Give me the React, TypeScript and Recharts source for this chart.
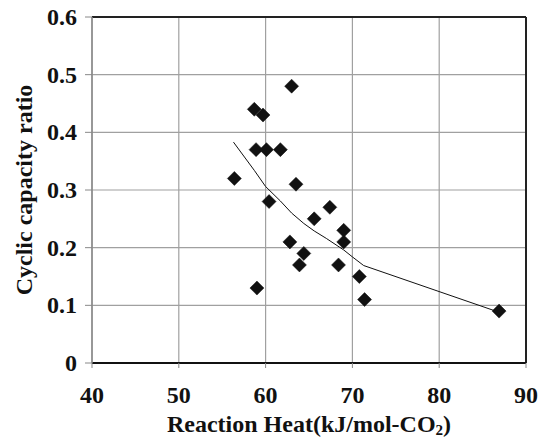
import React from 'react';
import { ScatterChart, Scatter, XAxis, YAxis, CartesianGrid, ReferenceLine } from 'recharts';

const xTicks = [40, 50, 60, 70, 80, 90];
const yTicks = [0, 0.1, 0.2, 0.3, 0.4, 0.5, 0.6];

const heatValues = [63.0, 58.7, 59.7, 58.9, 60.1, 61.7, 56.4, 63.5, 60.4, 67.4, 65.6, 69.0, 69.0, 62.8, 64.4, 63.9, 68.4, 70.8, 59.0, 71.4, 86.9];
const ratioValues = [0.48, 0.44, 0.43, 0.37, 0.37, 0.37, 0.32, 0.31, 0.28, 0.27, 0.25, 0.23, 0.21, 0.21, 0.19, 0.17, 0.17, 0.15, 0.13, 0.11, 0.09];

const trendHeat = [56.3, 58.7, 60.0, 61.7, 63.0, 64.4, 65.6, 67.0, 69.0, 70.0, 71.3, 86.9];
const trendRatio = [0.383, 0.334, 0.306, 0.281, 0.26, 0.242, 0.229, 0.216, 0.196, 0.184, 0.169, 0.088];

const points = heatValues.map((x, i) => ({ x, y: ratioValues[i] }));
const trend = trendHeat.map((x, i) => ({ x, y: trendRatio[i] }));

const FONT = '"Liberation Serif", "DejaVu Serif", serif';

const Diamond = (props: any) => {
  const { cx, cy } = props;
  const r = 7;
  return (
    <polygon
      points={`${cx},${cy - r} ${cx + r},${cy} ${cx},${cy + r} ${cx - r},${cy}`}
      fill="#111"
      stroke="#111"
      strokeWidth={0.5}
    />
  );
};

const NoShape = () => <g />;

const XTick = (props: any) => {
  const { x, y, payload } = props;
  return (
    <text x={x} y={y + 17} textAnchor="middle" style={{ fontFamily: FONT, fontWeight: 700, fontSize: 24 }} fill="#111">
      {payload.value}
    </text>
  );
};

const YTick = (props: any) => {
  const { x, y, payload } = props;
  return (
    <text x={x} y={y + 8} textAnchor="end" style={{ fontFamily: FONT, fontWeight: 700, fontSize: 24 }} fill="#111">
      {payload.value}
    </text>
  );
};

const XTitle = (props: any) => {
  const vb = props.viewBox || {};
  const cx = vb.x + vb.width / 2;
  const y = vb.y + 69;
  return (
    <text x={cx} y={y} textAnchor="middle" style={{ fontFamily: FONT, fontWeight: 700, fontSize: 24 }} fill="#111">
      <tspan>Reaction Heat(kJ/mol-CO</tspan>
      <tspan style={{ fontSize: 15 }} dy={3}>2</tspan>
      <tspan dy={-3}>)</tspan>
    </text>
  );
};

const YTitle = (props: any) => {
  const vb = props.viewBox || {};
  const cy = vb.y + vb.height / 2;
  const x = 32;
  return (
    <text
      x={x}
      y={cy}
      transform={`rotate(-90, ${x}, ${cy})`}
      textAnchor="middle"
      style={{ fontFamily: FONT, fontWeight: 700, fontSize: 24 }}
      fill="#111"
    >
      Cyclic capacity ratio
    </text>
  );
};

export default function App() {
  return (
    <div style={{ position: 'absolute', left: 0, top: 0, width: 539, height: 438, background: '#fff' }}>
      <ScatterChart width={539} height={438} margin={{ top: 17, right: 13, bottom: 0, left: 0 }}>
        <CartesianGrid stroke="#a0a0a0" strokeWidth={1.2} />
        <XAxis
          type="number"
          dataKey="x"
          domain={[40, 90]}
          ticks={xTicks}
          height={75}
          axisLine={{ stroke: '#111', strokeWidth: 2 }}
          tickLine={{ stroke: '#888' }}
          tickSize={5}
          tickMargin={18}
          tick={<XTick />}
          label={<XTitle />}
        />
        <YAxis
          type="number"
          dataKey="y"
          domain={[0, 0.6]}
          ticks={yTicks}
          width={92}
          axisLine={{ stroke: '#888', strokeWidth: 1.5 }}
          tickLine={{ stroke: '#888' }}
          tickSize={7}
          tickMargin={8}
          tick={<YTick />}
          label={<YTitle />}
        />
        <ReferenceLine y={0.6} stroke="#222" strokeWidth={2} />
        <ReferenceLine x={90} stroke="#222" strokeWidth={2} />
        <Scatter
          data={trend}
          line={{ stroke: '#111', strokeWidth: 1 }}
          shape={NoShape}
          isAnimationActive={false}
        />
        <Scatter data={points} shape={Diamond} isAnimationActive={false} />
      </ScatterChart>
    </div>
  );
}
